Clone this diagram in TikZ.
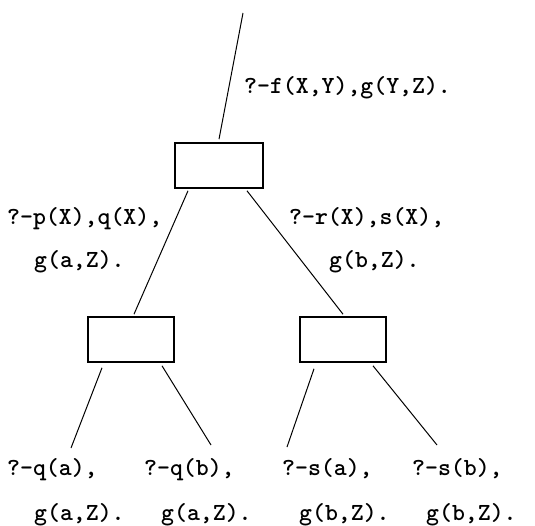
\documentclass[tikz,border=0pt]{standalone}
\begin{document}
\begin{tikzpicture}[x=1pt,y=-1pt,
  goalbox/.style={draw,line width=1.6pt,minimum width=86pt,minimum height=45pt,inner sep=0pt},
  edge/.style={line width=1pt},
  lbl/.style={anchor=base west,inner sep=0pt,font=\ttfamily\bfseries\fontsize{24.6}{29}\selectfont}]
\useasboundingbox (0,0) rectangle (535,526);
% boxes
\node[goalbox,minimum width=88pt] (b0) at (219,165.5) {};
\node[goalbox] (b1) at (131,339.5) {};
\node[goalbox] (b2) at (343,339.5) {};
% free ends
\coordinate (top) at (243,13);
\coordinate (e1) at (71,448);
\coordinate (e2) at (211,445);
\coordinate (e3) at (287,447);
\coordinate (e4) at (437,445);
% connectors
\draw[edge] (top) -- ([yshift=3pt]b0.north);
\draw[edge] ([xshift=-31pt,yshift=-2pt]b0.south) -- ([xshift=3pt,yshift=2pt]b1.north);
\draw[edge] ([xshift=28pt,yshift=-2pt]b0.south) -- ([yshift=2pt]b2.north);
\draw[edge] ([xshift=-29pt,yshift=-5pt]b1.south) -- (e1);
\draw[edge] ([xshift=31pt,yshift=-3pt]b1.south) -- (e2);
\draw[edge] ([xshift=-29pt,yshift=-6pt]b2.south) -- (e3);
\draw[edge] ([xshift=30pt,yshift=-3pt]b2.south) -- (e4);
% labels
\node[lbl] (l0) at (244,94) {?-f(X,Y),g(Y,Z).};
\node[lbl] (l1a) at (7,225) {?-p(X),q(X),};
\node[lbl] (l1b) at (34,268) {g(a,Z).};
\node[lbl] (l2a) at (289,225) {?-r(X),s(X),};
\node[lbl] (l2b) at (329,268) {g(b,Z).};
\node[lbl] (l3a) at (7,475) {?-q(a),};
\node[lbl] (l3b) at (34,520) {g(a,Z).};
\node[lbl] (l4a) at (144,475) {?-q(b),};
\node[lbl] (l4b) at (161,520) {g(a,Z).};
\node[lbl] (l5a) at (282,475) {?-s(a),};
\node[lbl] (l5b) at (299,520) {g(b,Z).};
\node[lbl] (l6a) at (412,475) {?-s(b),};
\node[lbl] (l6b) at (426,520) {g(b,Z).};
\end{tikzpicture}
\end{document}
